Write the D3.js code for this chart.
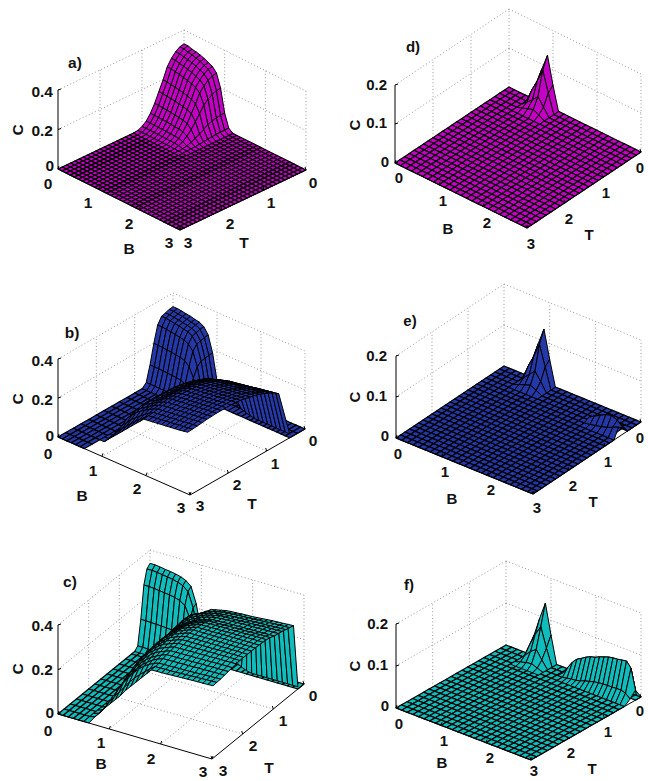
<!DOCTYPE html>
<html>
<head>
<meta charset="utf-8">
<script src="https://cdn.jsdelivr.net/npm/d3@7"></script>
<style>
  body { margin: 0; background: #fff; }
  text { font-family: "Liberation Sans", Arial, sans-serif; font-weight: bold; fill: #111; }
</style>
</head>
<body>
<div id="chart"></div>
<script>
// ALL HEIGHTS BELOW ARE C x 1000
const bTicks = [0, 1, 2, 3];
const tTicks = [0, 1, 2, 3];
const cTicksTall = [0, 0.2, 0.4];
const cTicksShort = [0, 0.1, 0.2];

// HUMP AT THE BACK CORNER (rows = T, columns = B)
const humpB = [0, 0.1, 0.2, 0.3, 0.4, 0.5, 0.6, 0.7, 0.8, 0.9, 1.0, 1.1, 1.2];
const humpAT = [0, 0.1, 0.2, 0.3, 0.4, 0.5, 0.6, 0.7, 0.8, 0.9, 1.0, 1.1, 1.2];
const humpA = [
  [330, 330, 323, 320, 314, 307, 297, 287, 264, 198, 83, 17, 0],
  [325, 325, 318, 315, 309, 302, 293, 283, 260, 195, 81, 16, 0],
  [310, 310, 304, 301, 295, 289, 279, 270, 248, 186, 78, 16, 0],
  [287, 287, 281, 278, 273, 267, 258, 250, 230, 172, 72, 15, 0],
  [254, 254, 249, 246, 242, 236, 229, 221, 203, 152, 64, 13, 0],
  [198, 198, 194, 192, 188, 184, 178, 172, 158, 119, 50, 10, 0],
  [149, 149, 145, 144, 141, 138, 134, 129, 119, 89, 37, 8, 0],
  [99, 99, 97, 96, 94, 92, 89, 86, 79, 59, 25, 5, 0],
  [59, 59, 58, 58, 57, 55, 53, 52, 48, 36, 15, 3, 0],
  [30, 30, 29, 29, 28, 28, 27, 26, 24, 18, 7, 2, 0],
  [13, 13, 13, 13, 13, 12, 12, 11, 11, 8, 3, 1, 0],
  [3, 3, 3, 3, 3, 3, 3, 3, 3, 2, 1, 0, 0],
  [0, 0, 0, 0, 0, 0, 0, 0, 0, 0, 0, 0, 0]
];
const humpBT = [0, 0.1, 0.2, 0.3, 0.4, 0.5, 0.6, 0.7, 0.8];
const humpBCol = [0, 0.1, 0.2, 0.3, 0.4, 0.5, 0.6, 0.7, 0.8, 0.9, 1.0, 1.1];
const humpBlue = [
  [330, 330, 327, 323, 320, 314, 310, 297, 264, 182, 50, 0],
  [327, 327, 324, 320, 317, 311, 307, 294, 261, 180, 50, 0],
  [320, 320, 317, 313, 310, 305, 301, 288, 256, 177, 49, 0],
  [314, 314, 311, 307, 304, 298, 295, 282, 251, 173, 48, 0],
  [281, 281, 278, 275, 272, 267, 264, 252, 224, 155, 43, 0],
  [198, 198, 196, 194, 192, 188, 186, 178, 158, 109, 30, 0],
  [99, 99, 98, 97, 96, 94, 93, 89, 79, 55, 15, 0],
  [20, 20, 20, 19, 19, 19, 19, 18, 16, 11, 3, 0],
  [0, 0, 0, 0, 0, 0, 0, 0, 0, 0, 0, 0]
];
const humpCT = [0, 0.1, 0.2, 0.3, 0.4, 0.5];
const humpCyan = [
  [340, 340, 337, 333, 330, 326, 320, 310, 290, 220, 100, 0],
  [326, 326, 324, 320, 317, 313, 307, 298, 278, 211, 96, 0],
  [265, 265, 263, 260, 257, 254, 250, 242, 226, 172, 78, 0],
  [122, 122, 121, 120, 119, 117, 115, 112, 104, 79, 36, 0],
  [14, 14, 13, 13, 13, 13, 13, 12, 12, 9, 4, 0],
  [0, 0, 0, 0, 0, 0, 0, 0, 0, 0, 0, 0]
];

// RAISED SHEET IN PANEL b (short rows stop where the surface stops)
const sheetBlueB = [0.6, 0.7, 0.8, 0.9, 1.0, 1.1, 1.2, 1.3, 1.4, 1.5, 1.6, 1.7, 1.8, 1.9, 2.0, 2.1, 2.2, 2.3, 2.4, 2.5, 2.6];
const sheetBlueT = [0.225, 0.35, 0.475, 0.6, 0.725, 0.85, 0.975, 1.1, 1.225, 1.35, 1.475, 1.6, 1.725, 1.85, 1.975, 2.1, 2.225, 2.35, 2.475, 2.6, 2.8, 3.0];
const sheetBlue = [
  [0, 20, 50, 72, 87, 93, 98, 103, 108, 115, 121, 125, 130, 134, 139, 143, 148, 152, 157, 161, 166],
  [0, 16, 50, 78, 97, 108, 116, 124, 131, 139, 145, 149, 153, 157, 161, 165, 170, 174, 178, 182, 186],
  [0, 14, 50, 82, 106, 120, 129, 138, 147, 155, 161, 165, 169, 173, 177, 180, 184, 188, 191, 195, 198],
  [0, 12, 50, 85, 115, 130, 140, 150, 160, 168, 175, 179, 182, 186, 189, 193, 196, 200, 203, 207, 210],
  [0, 12, 53, 91, 123, 139, 149, 160, 171, 180, 187, 191, 194, 197, 200, 203, 207, 210, 213, 216, 220],
  [0, 12, 56, 97, 130, 147, 157, 169, 181, 191, 197, 200, 203, 206, 209, 212, 215, 218, 221, 224, 227],
  [0, 12, 59, 103, 136, 153, 164, 176, 188, 198, 205, 208, 211, 214, 217, 220, 223, 226, 228, 231, 234],
  [0, 12, 62, 106, 140, 157, 167, 180, 194, 204, 211, 214, 217, 220, 223, 225, 228, 231, 234, 237, 240],
  [0, 12, 65, 108, 142, 160, 170, 183, 198, 208, 215, 218, 221, 224, 227, 230, 233, 236, 239, 242, 245],
  [0, 12, 66, 110, 144, 162, 173, 186, 201, 212, 219, 222, 225, 228, 231, 234, 237, 240, 243, 246, 249],
  [0, 12, 66, 110, 145, 163, 174, 188, 203, 214, 221, 224, 227, 229, 232, 235, 238, 241, 244, 247, 250],
  [0, 12, 66, 110, 146, 164, 175, 189, 204, 215, 222, 225, 228, 230, 233, 236, 239, 242, 245, 247, 250],
  [0, 12, 66, 110, 146, 164, 175, 189, 204, 215, 222, 225, 228, 230, 233, 236, 239, 242, 245, 247, 250],
  [0, 12, 66, 110, 146, 164, 175, 189, 204, 215, 222, 225, 228, 230, 233, 236, 239, 242, 245, 247, 250],
  [0, 12, 64, 108, 144, 162, 173, 187, 202, 212, 220, 223, 226, 228, 231, 234, 237, 240, 242, 245, 248],
  [0, 10, 60, 104, 135, 155, 169, 184, 199, 209, 218, 221, 224, 226, 229, 232, 235, 238, 241, 244, 247],
  [0, 8, 54, 98, 122, 146, 163, 178, 193, 205, 214, 217, 220, 223, 226, 229, 232, 235, 238, 241, 244],
  [0, 5, 42, 76, 100, 125, 144, 163, 181, 197, 211, 214, 217, 220, 223, 226, 229, 232, 235, 238, 241],
  [0, 2, 32, 58, 82, 106, 128, 149, 170, 188, 208, 211, 214, 217, 220, 223, 226, 229, 232, 235, 239],
  [0, 0, 23, 46, 68, 91, 114, 137, 160, 182, 205, 208, 211, 214, 217, 220, 223, 226, 229, 233, 237],
  [0, 0],
  [0, 0]
];
const wallBlueTopB = 2.6;
const wallBlueTopT = [1.4, 1.3, 1.2, 1.1, 1.0, 0.9, 0.8, 0.7, 0.6, 0.5, 0.4, 0.3, 0.225];
const wallBlueTopC = [250, 247, 245, 240, 235, 230, 225, 218, 210, 200, 190, 178, 166];
const wallBlueBaseT = 0.4;
const wallBlueBaseB = [1.8, 1.9, 2.0, 2.1, 2.2, 2.3, 2.4, 2.5, 2.6, 2.7, 2.8, 2.9, 3.0];
const wallBlueBaseC = [58, 40, 30, 25, 20, 20, 20, 20, 20, 20, 20, 20, 20];

// RAISED SHEET IN PANEL c
const sheetCyanB = [0.5, 0.6, 0.7, 0.8, 0.9, 1.0, 1.1, 1.2, 1.3, 1.4, 1.5, 1.6, 1.7, 1.8, 1.9, 2.0, 2.1, 2.2, 2.3, 2.4, 2.5, 2.6, 2.7, 2.8, 2.9];
const sheetCyanT = [0.175, 0.3, 0.425, 0.55, 0.675, 0.8, 0.925, 1.05, 1.175, 1.3, 1.425, 1.55, 1.675, 1.8, 1.925, 2.05, 2.175, 2.3, 2.425, 2.55, 2.675, 2.8, 3.0];
const sheetCyan = [
  [0, 75, 125, 160, 190, 200, 210, 225, 240, 245, 250, 255, 257, 258, 260, 261, 262, 264, 266, 268, 270, 271, 272, 274, 275],
  [0, 72, 122, 162, 192, 208, 220, 232, 245, 252, 257, 262, 265, 266, 268, 269, 270, 271, 273, 274, 276, 277, 278, 279, 280],
  [0, 70, 120, 165, 195, 215, 230, 240, 250, 258, 264, 268, 272, 274, 275, 276, 277, 278, 279, 280, 281, 282, 283, 284, 285],
  [0, 63, 117, 162, 192, 215, 231, 243, 253, 263, 270, 275, 280, 281, 282, 283, 284, 285, 286, 287, 288, 289, 290, 290, 291],
  [0, 56, 113, 158, 190, 213, 231, 245, 256, 267, 275, 281, 286, 288, 289, 290, 291, 292, 292, 293, 293, 294, 295, 295, 296],
  [0, 50, 110, 155, 190, 210, 230, 245, 258, 270, 278, 285, 291, 292, 293, 294, 295, 295, 296, 296, 297, 297, 298, 298, 299],
  [0, 44, 101, 149, 186, 210, 231, 248, 262, 276, 285, 292, 299, 300, 300, 301, 302, 302, 303, 303, 304, 304, 305, 305, 305],
  [0, 39, 94, 144, 182, 210, 232, 251, 266, 281, 291, 299, 306, 307, 307, 308, 308, 308, 309, 309, 309, 310, 310, 310, 310],
  [0, 35, 90, 140, 180, 212, 235, 254, 270, 285, 295, 304, 310, 310, 311, 311, 311, 312, 312, 312, 312, 313, 313, 313, 313],
  [0, 32, 87, 140, 180, 212, 236, 256, 272, 288, 297, 306, 313, 313, 313, 313, 313, 314, 314, 314, 314, 314, 314, 314, 314],
  [0, 30, 85, 140, 180, 213, 238, 258, 274, 290, 299, 308, 315, 315, 315, 315, 315, 315, 315, 315, 315, 315, 315, 315, 315],
  [0, 26, 78, 133, 177, 211, 236, 258, 274, 290, 299, 308, 315, 315, 315, 315, 315, 315, 315, 315, 315, 315, 315, 315, 315],
  [0, 23, 71, 128, 173, 208, 234, 257, 273, 289, 298, 307, 314, 314, 315, 315, 315, 315, 315, 315, 315, 315, 315, 315, 315],
  [0, 20, 65, 125, 170, 205, 232, 255, 272, 288, 297, 306, 313, 314, 314, 314, 314, 314, 314, 315, 315, 315, 315, 315, 315],
  [0, 17, 62, 122, 167, 202, 230, 252, 270, 286, 295, 304, 311, 312, 312, 312, 313, 313, 314, 314, 314, 315, 315, 315, 315],
  [0, 15, 58, 117, 162, 197, 225, 248, 266, 282, 292, 301, 309, 309, 310, 310, 311, 311, 312, 312, 313, 313, 313, 314, 314],
  [0, 12, 51, 107, 152, 187, 217, 241, 260, 277, 288, 297, 306, 306, 307, 307, 308, 308, 309, 309, 310, 310, 311, 311, 311],
  [0, 11, 47, 97, 142, 177, 207, 232, 253, 270, 283, 294, 302, 303, 303, 304, 304, 305, 305, 306, 306, 307, 307, 307, 308],
  [0, 10, 44, 88, 130, 165, 195, 222, 245, 263, 278, 290, 299, 299, 300, 300, 301, 301, 302, 303, 303, 304, 304, 305, 305],
  [0, 8, 41, 82, 118, 155, 185, 214, 238, 258, 273, 285, 292, 293, 293, 294, 295, 295, 296, 297, 298, 299, 300, 301, 302],
  [0, 7, 35, 70, 100, 130, 158, 188, 213, 235, 255, 274, 291, 291, 292, 292, 293, 294, 295, 296, 297, 298, 299, 300, 301],
  [0, 5, 30, 60, 85, 110, 135, 165, 190, 215, 240, 265, 290, 291, 291, 292, 293, 294, 295, 296, 297, 298, 298, 299, 300],
  [0, 0]
];
const wallCyanTopB = 2.9;
const wallCyanTopT = [2.0, 1.85, 1.7, 1.55, 1.4, 1.25, 1.1, 0.95, 0.8, 0.65, 0.5, 0.35, 0.175];
const wallCyanTopC = [314, 315, 315, 315, 315, 313, 312, 308, 299, 294, 289, 282, 275];
const wallCyanBaseT = 0.2;
const wallCyanBaseB = [1.8, 1.9, 2.0, 2.1, 2.2, 2.3, 2.4, 2.5, 2.6, 2.7, 2.8, 2.9, 3.0];
const wallCyanBaseC = [40, 25, 15, 10, 10, 10, 10, 10, 10, 10, 10, 10, 10];

// SMALL SPIKES IN THE RIGHT COLUMN
const spikeB = [0.5, 0.625, 0.75, 0.875, 1.0, 1.125];
const spikeT = [0, 0.125, 0.25, 0.375, 0.5];
const spikeD = [
  [0, 47, 89, 130, 60, 0],
  [0, 35, 65, 100, 48, 0],
  [0, 12, 25, 40, 20, 0],
  [0, 5, 10, 15, 8, 0],
  [0, 0, 0, 0, 0, 0]
];
const spikeE = [
  [0, 47, 89, 130, 62, 0],
  [0, 35, 65, 100, 50, 0],
  [0, 14, 28, 42, 22, 0],
  [0, 5, 10, 15, 8, 0],
  [0, 0, 0, 0, 0, 0]
];
const spikeF = [
  [0, 50, 95, 136, 65, 0],
  [0, 32, 62, 86, 40, 0],
  [0, 14, 28, 38, 18, 0],
  [0, 4, 8, 10, 5, 0],
  [0, 0, 0, 0, 0, 0]
];

// LOW RIDGE NEAR THE RIGHT CORNER OF e AND f
const ridgeEB = [2.25, 2.375, 2.5, 2.625, 2.75, 2.875, 3.0];
const ridgeET = [0.25, 0.375, 0.5, 0.625, 0.75];
const ridgeE = [
  [0, 0, 0, 0, 0, 0, 0],
  [2, 5, 8, 10, 12, 8, 0],
  [7, 15, 23, 30, 34, 28, 15],
  [0, 2, 5, 8, 12, 18, 24],
  [0, 0, 0, 0, 0, 0, 0]
];
const ridgeFB = [1.4, 1.5, 1.6, 1.7, 1.8, 1.9, 2.0, 2.1, 2.2, 2.3, 2.4, 2.5, 2.6, 2.7, 2.8, 2.9, 3.0];
const ridgeFT = [0, 0.15, 0.3, 0.45];
const ridgeF = [
  [0, 0, 0, 0, 0, 0, 0, 0, 0, 0, 0, 0, 0, 0, 0, 0, 0],
  [0, 17, 33, 44, 50, 57, 62, 65, 70, 74, 78, 80, 81, 83, 85, 72, 24],
  [0, 0, 2, 4, 5, 8, 12, 15, 18, 20, 21, 22, 22, 23, 23, 20, 10],
  [0, 0, 0, 0, 0, 0, 0, 0, 0, 0, 0, 0, 0, 0, 0, 0, 0]
];

// PANEL LAYOUT (floor corners in page pixels)
const panels = [
  { name: "a)", L: [58, 169], F: [180, 230], R: [306, 170], cTop: 0.4, cPx: 79, color: "#c400c4", font: 15.5,
    bStep: 0.1, tStep: 0.1, cTicks: cTicksTall,
    patches: [{ bs: humpB, ts: humpAT, c: humpA }],
    labels: { z: [[53, 91], [53, 130], [54, 165]], C: [17, 130], B: [129, 248], T: [244, 242], tag: [75, 62],
      bt: [[48, 183], [88, 202], [129, 223], [169, 242]], tt: [[313, 182], [271, 202], [230, 223], [188, 242]] } },
  { name: "b)", L: [58, 437], F: [190, 495], R: [305, 429], cTop: 0.4, cPx: 78, color: "#2438a8", font: 15.5,
    bStep: 0.1, tStep: 0.2, cTicks: cTicksTall, keep: [[0, 0.6, 0, 3], [0, 3, 0, 0.4]],
    patches: [{ bs: humpBCol, ts: humpBT, c: humpBlue }, { bs: sheetBlueB, ts: sheetBlueT, c: sheetBlue }],
    wall: { topB: wallBlueTopB, topT: wallBlueTopT, topC: wallBlueTopC, baseT: wallBlueBaseT, baseB: wallBlueBaseB, baseC: wallBlueBaseC },
    labels: { z: [[53, 360], [53, 399], [54, 435]], C: [17, 399], B: [82, 495], T: [252, 503], tag: [72, 332],
      bt: [[48, 453], [93, 470], [137, 488], [181, 507]], tt: [[313, 440], [275, 463], [237, 484], [200, 505]] } },
  { name: "c)", L: [58, 714], F: [212, 759], R: [304, 684], cTop: 0.4, cPx: 89, color: "#10bcbc", font: 15.5,
    bStep: 0.1, tStep: 0.2, cTicks: cTicksTall, keep: [[0, 0.5, 0, 3], [0, 3, 0, 0.2]],
    patches: [{ bs: humpBCol, ts: humpCT, c: humpCyan }, { bs: sheetCyanB, ts: sheetCyanT, c: sheetCyan }],
    wall: { topB: wallCyanTopB, topT: wallCyanTopT, topC: wallCyanTopC, baseT: wallCyanBaseT, baseB: wallCyanBaseB, baseC: wallCyanBaseC },
    labels: { z: [[53, 625], [53, 669], [54, 712]], C: [17, 669], B: [101, 763], T: [269, 767], tag: [70, 581],
      bt: [[48, 730], [101, 742], [151, 758], [203, 771]], tt: [[313, 695], [283, 720], [253, 745], [223, 770]] } },
  { name: "d)", L: [395, 163], F: [527, 228], R: [641, 152], cTop: 0.2, cPx: 78, color: "#c400c4", font: 15,
    bStep: 0.125, tStep: 0.125, cTicks: cTicksShort,
    patches: [{ bs: spikeB, ts: spikeT, c: spikeD }],
    labels: { z: [[387, 85], [387, 123], [389, 162]], C: [355, 125], B: [448, 229], T: [589, 235], tag: [413, 47],
      bt: [[399, 178], [443, 201], [487, 223], [531, 244]], tt: [[640, 168], [606, 193], [569, 219], null] } },
  { name: "e)", L: [396, 438], F: [533, 494], R: [641, 422], cTop: 0.2, cPx: 82, color: "#2438a8", font: 15,
    bStep: 0.125, tStep: 0.125, cTicks: cTicksShort, hole: [[2.875, 3, 0.375, 0.75]],
    patches: [{ bs: spikeB, ts: spikeT, c: spikeE }, { bs: ridgeEB, ts: ridgeET, c: ridgeE }],
    labels: { z: [[387, 356], [387, 396], [389, 436]], C: [355, 397], B: [452, 499], T: [593, 502], tag: [410, 321],
      bt: [[398, 454], [445, 472], [491, 490], [537, 508]], tt: [[640, 438], [608, 462], [573, 486], null] } },
  { name: "f)", L: [396, 708], F: [531, 760], R: [641, 697], cTop: 0.2, cPx: 84, color: "#10bcbc", font: 15,
    bStep: 0.125, tStep: 0.15, cTicks: cTicksShort, hole: [[2.875, 3, 0.15, 0.45]],
    patches: [{ bs: spikeB, ts: spikeT, c: spikeF }, { bs: ridgeFB, ts: ridgeFT, c: ridgeF }],
    labels: { z: [[388, 624], [388, 665], [389, 706]], C: [355, 666], B: [442, 763], T: [592, 769], tag: [409, 585],
      bt: [[399, 724], [444, 741], [490, 758], [534, 771]], tt: [[640, 711], [608, 732], [571, 753], null] } }
];

const svg = d3.select("#chart")
  .append("svg")
  .attr("width", 648)
  .attr("height", 781);

const line = d3.line();

panels.forEach(p => {
  const g = svg.append("g");

  // SCALES: B runs back -> right, T runs right -> front, C is straight up
  const back = [p.L[0] + p.R[0] - p.F[0], p.L[1] + p.R[1] - p.F[1]];
  const bx = d3.scaleLinear().domain([0, 3]).range([back[0], p.R[0]]);
  const by = d3.scaleLinear().domain([0, 3]).range([back[1], p.R[1]]);
  const tx = d3.scaleLinear().domain([0, 3]).range([0, p.F[0] - p.R[0]]);
  const ty = d3.scaleLinear().domain([0, 3]).range([0, p.F[1] - p.R[1]]);
  const cy = d3.scaleLinear().domain([0, p.cTop]).range([0, p.cPx]);
  const pt = (b, t, c) => [bx(b) + tx(t), by(b) + ty(t) - cy(c)];

  // DOTTED BOX
  const dotted = (a, b) => g.append("path")
    .attr("d", line([a, b]))
    .attr("fill", "none")
    .attr("stroke", "#8a8a8a")
    .attr("stroke-width", 0.9)
    .attr("stroke-dasharray", "1 2.4");

  p.cTicks.forEach(c => {
    dotted(pt(0, 3, c), pt(0, 0, c));
    dotted(pt(0, 0, c), pt(3, 0, c));
  });
  [1, 2].forEach(v => {
    dotted(pt(0, v, 0), pt(0, v, p.cTop));
    dotted(pt(v, 0, 0), pt(v, 0, p.cTop));
    dotted(pt(0, v, 0), pt(3, v, 0));
    dotted(pt(v, 0, 0), pt(v, 3, 0));
  });
  dotted(pt(0, 0, 0), pt(0, 0, p.cTop));
  dotted(pt(3, 0, 0), pt(3, 0, p.cTop));

  // CELL DRAWING
  const drawCells = (cells, width) => {
    cells.sort((a, b) => a.depth - b.depth);
    g.append("g").selectAll("path")
      .data(cells)
      .enter()
      .append("path")
      .attr("d", d => line(d.pts) + "Z")
      .attr("fill", p.color)
      .attr("stroke", "#000")
      .attr("stroke-width", width)
      .attr("stroke-linejoin", "round");
  };

  // FLOOR
  const floor = [];
  const nb = Math.round(3 / p.bStep);
  const nt = Math.round(3 / p.tStep);
  const eps = 1e-6;
  const inside = (r, b0, b1, t0, t1) => b0 >= r[0] - eps && b1 <= r[1] + eps && t0 >= r[2] - eps && t1 <= r[3] + eps;
  for (let i = 0; i < nb; i++) {
    for (let j = 0; j < nt; j++) {
      const b0 = i * p.bStep, b1 = (i + 1) * p.bStep;
      const t0 = j * p.tStep, t1 = (j + 1) * p.tStep;
      if (p.keep && !p.keep.some(r => inside(r, b0, b1, t0, t1))) continue;
      if (p.hole && p.hole.some(r => inside(r, b0, b1, t0, t1))) continue;
      floor.push({
        pts: [pt(b0, t0, 0), pt(b1, t0, 0), pt(b1, t1, 0), pt(b0, t1, 0)],
        depth: by(b0) + ty(t0)
      });
    }
  }
  drawCells(floor, 1.2);

  // RAISED SURFACES (values in C x 1000, a missing value = no surface)
  p.patches.forEach(s => {
    const cells = [];
    s.ts.slice(0, -1).forEach((t0, j) => {
      const t1 = s.ts[j + 1];
      s.bs.slice(0, -1).forEach((b0, i) => {
        const b1 = s.bs[i + 1];
        const v = [s.c[j][i], s.c[j][i + 1], s.c[j + 1][i + 1], s.c[j + 1][i]];
        if (v.some(x => x === undefined) || v.every(x => x === 0)) return;
        cells.push({
          pts: [pt(b0, t0, v[0] / 1000), pt(b1, t0, v[1] / 1000), pt(b1, t1, v[2] / 1000), pt(b0, t1, v[3] / 1000)],
          depth: by(b0) + ty(t0)
        });
      });
    });
    drawCells(cells, 1);
  });

  // STEEP SIDE OF THE SHEET
  if (p.wall) {
    const w = p.wall;
    const cells = w.topT.slice(0, -1).map((t0, i) => ({
      pts: [
        pt(w.topB, t0, w.topC[i] / 1000),
        pt(w.topB, w.topT[i + 1], w.topC[i + 1] / 1000),
        pt(w.baseB[i + 1], w.baseT, w.baseC[i + 1] / 1000),
        pt(w.baseB[i], w.baseT, w.baseC[i] / 1000)
      ],
      depth: i
    }));
    drawCells(cells, 1);
  }

  // AXES
  const axisLine = (a, b, w) => g.append("path")
    .attr("d", line([a, b]))
    .attr("fill", "none")
    .attr("stroke", "#000")
    .attr("stroke-width", w);

  axisLine(pt(0, 3, 0), pt(0, 3, p.cTop), 1);
  axisLine(pt(0, 3, 0), pt(3, 3, 0), 1);
  axisLine(pt(3, 0, 0), pt(3, 3, 0), 1);
  p.cTicks.forEach(c => {
    const a = pt(0, 3, c);
    axisLine(a, [a[0] + 3, a[1] - 1], 1);
  });
  bTicks.forEach(v => {
    const a = pt(v, 3, 0);
    axisLine(a, [a[0] + 1, a[1] - 3], 1);
  });
  tTicks.forEach(v => {
    const a = pt(3, v, 0);
    axisLine(a, [a[0] - 1, a[1] - 3], 1);
  });

  // TEXT
  const label = (pos, s, anchor) => g.append("text")
    .attr("x", pos[0])
    .attr("y", pos[1])
    .attr("dy", "0.36em")
    .attr("text-anchor", anchor || "middle")
    .attr("font-size", p.font)
    .text(s);

  const zOrder = p.cTicks.slice().reverse();
  zOrder.forEach((c, i) => label(p.labels.z[i], String(c), "end"));
  bTicks.forEach((v, i) => label(p.labels.bt[i], v));
  tTicks.forEach((v, i) => { if (p.labels.tt[i]) label(p.labels.tt[i], v); });
  label(p.labels.B, "B");
  label(p.labels.T, "T");
  label(p.labels.tag, p.name);
  g.append("text")
    .attr("transform", `translate(${p.labels.C[0]},${p.labels.C[1]}) rotate(-90)`)
    .attr("dy", "0.36em")
    .attr("text-anchor", "middle")
    .attr("font-size", p.font)
    .text("C");
});
</script>
</body>
</html>
